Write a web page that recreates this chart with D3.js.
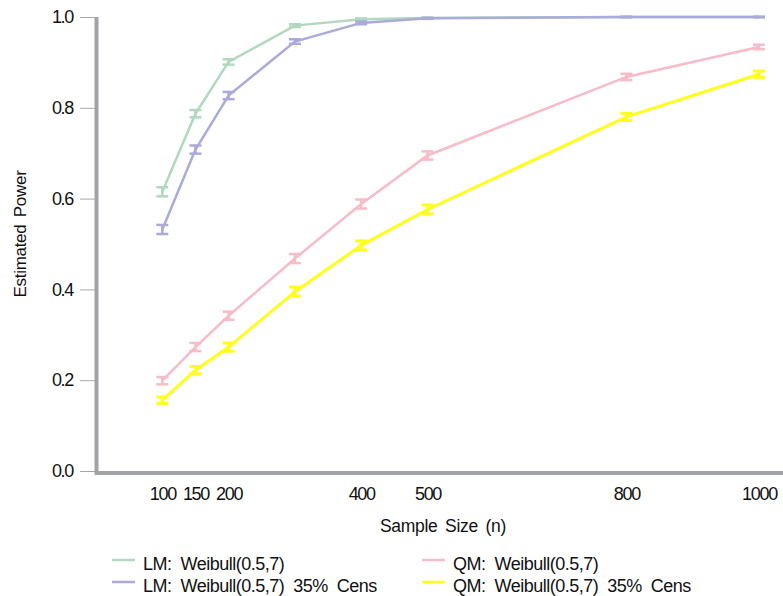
<!DOCTYPE html>
<html>
<head>
<meta charset="utf-8">
<script src="https://cdn.jsdelivr.net/npm/d3@7"></script>
<style>
  body { margin: 0; background: #fff; }
  text { font-family: "Liberation Sans", Arial, sans-serif; fill: #111; }
</style>
</head>
<body>
<div id="chart-area"></div>
<script>
// sample sizes and x tick labels
const sampleSizes = [100, 150, 200, 300, 400, 500, 800, 1000];
const xTicks = [100, 150, 200, 400, 500, 800, 1000];
const yTicks = [0, 0.2, 0.4, 0.6, 0.8, 1.0];

// estimated power per series
const lmPower     = [0.615, 0.787, 0.901, 0.981, 0.995, 0.998, 1.0, 1.0];
const lmCensPower = [0.532, 0.708, 0.827, 0.946, 0.987, 0.997, 1.0, 1.0];
const qmPower     = [0.199, 0.273, 0.342, 0.468, 0.588, 0.695, 0.868, 0.934];
const qmCensPower = [0.156, 0.222, 0.273, 0.395, 0.497, 0.576, 0.780, 0.874];

// half widths of the error bars
const lmErr     = [0.010, 0.008, 0.006, 0.003, 0.002, 0.001, 0.0, 0.0];
const lmCensErr = [0.010, 0.009, 0.008, 0.005, 0.003, 0.001, 0.0, 0.0];
const qmErr     = [0.008, 0.009, 0.009, 0.010, 0.010, 0.009, 0.007, 0.005];
const qmCensErr = [0.007, 0.008, 0.009, 0.010, 0.010, 0.010, 0.008, 0.007];

const seriesNames = [
  "LM:  Weibull(0.5,7)",
  "LM:  Weibull(0.5,7)  35%  Cens",
  "QM:  Weibull(0.5,7)",
  "QM:  Weibull(0.5,7)  35%  Cens"
];
const colors = ["#b2d8c0", "#aaaadb", "#f8bcc8", "#ffff1a"];

const series = [lmPower, lmCensPower, qmPower, qmCensPower].map((vals, i) => ({
  name: seriesNames[i],
  color: colors[i],
  points: vals.map((v, j) => ({ n: sampleSizes[j], p: v, e: [lmErr, lmCensErr, qmErr, qmCensErr][i][j] }))
}));

const WIDTH = 783, HEIGHT = 596;

const svg = d3.select("#chart-area").append("svg")
  .attr("width", WIDTH)
  .attr("height", HEIGHT);

const x = d3.scaleLinear().domain([0, 1000]).range([96, 759]);
const y = d3.scaleLinear().domain([0, 1]).range([471, 17]);

// y axis
const leftAxis = d3.axisLeft(y)
  .tickValues(yTicks)
  .tickFormat(d3.format(".1f"))
  .tickSize(15)
  .tickPadding(7);
const gy = svg.append("g")
  .attr("transform", "translate(95,0)")
  .call(leftAxis);
gy.select(".domain").remove();
gy.selectAll(".tick line").attr("stroke", "#a5a8ab").attr("stroke-width", 1);
gy.selectAll(".tick text").style("font-size", "18px").attr("letter-spacing", "-1.3");
svg.append("line")
  .attr("x1", 96.5).attr("x2", 96.5)
  .attr("y1", 17).attr("y2", 475)
  .attr("stroke", "#a0a4a8").attr("stroke-width", 4);

// x axis
const bottomAxis = d3.axisBottom(x)
  .tickValues(xTicks)
  .tickFormat(d3.format("d"))
  .tickSize(0)
  .tickPadding(14);
const gx = svg.append("g")
  .attr("transform", "translate(0,473)")
  .call(bottomAxis);
gx.select(".domain").remove();
gx.selectAll(".tick text").style("font-size", "18px").attr("letter-spacing", "-1.3");
svg.append("line")
  .attr("x1", 95).attr("x2", 783)
  .attr("y1", 473).attr("y2", 473)
  .attr("stroke", "#a0a4a8").attr("stroke-width", 4);

// axis titles
svg.append("text")
  .attr("x", 443).attr("y", 532)
  .attr("text-anchor", "middle")
  .style("font-size", "17.5px")
  .style("word-spacing", "3px")
  .attr("letter-spacing", "-0.3")
  .text("Sample Size (n)");
svg.append("text")
  .attr("transform", "translate(26,234) rotate(-90)")
  .attr("text-anchor", "middle")
  .style("font-size", "17px")
  .style("word-spacing", "3px")
  .attr("letter-spacing", "-0.3")
  .text("Estimated Power");

// lines and error bars
const line = d3.line().x(d => x(d.n)).y(d => y(d.p));
const capW = 6;

series.forEach((s, i) => {
  const g = svg.append("g");
  const sw = i === 3 ? 3 : 2.5;
  g.append("path")
    .datum(s.points)
    .attr("fill", "none")
    .attr("stroke", s.color)
    .attr("stroke-width", sw)
    .attr("d", line);

  const bars = g.selectAll(".err").data(s.points).enter().append("g");
  bars.append("line")
    .attr("x1", d => x(d.n)).attr("x2", d => x(d.n))
    .attr("y1", d => y(d.p + d.e)).attr("y2", d => y(d.p - d.e))
    .attr("stroke", s.color).attr("stroke-width", sw);
  bars.append("line")
    .attr("x1", d => x(d.n) - capW).attr("x2", d => x(d.n) + capW)
    .attr("y1", d => y(d.p + d.e)).attr("y2", d => y(d.p + d.e))
    .attr("stroke", s.color).attr("stroke-width", sw);
  bars.append("line")
    .attr("x1", d => x(d.n) - capW).attr("x2", d => x(d.n) + capW)
    .attr("y1", d => y(d.p - d.e)).attr("y2", d => y(d.p - d.e))
    .attr("stroke", s.color).attr("stroke-width", sw);
});

// legend
const legendPos = [[112, 570], [112, 592], [422, 570], [422, 592]];
series.forEach((s, i) => {
  const [lx, ly] = legendPos[i];
  svg.append("line")
    .attr("x1", lx).attr("x2", lx + 23)
    .attr("y1", ly - 10).attr("y2", ly - 10)
    .attr("stroke", s.color).attr("stroke-width", 2.5);
  svg.append("text")
    .attr("x", lx + 31).attr("y", ly)
    .attr("xml:space", "preserve")
    .style("white-space", "pre")
    .style("font-size", "18px")
    .attr("letter-spacing", "-0.5")
    .text(s.name);
});
</script>
</body>
</html>
